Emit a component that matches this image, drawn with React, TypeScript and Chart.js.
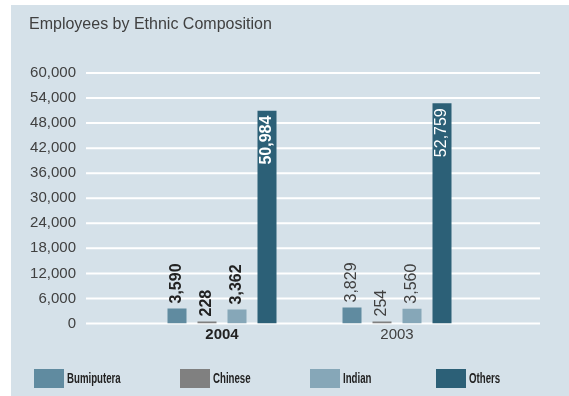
import React, { useEffect, useRef } from "react";
import { Chart, registerables } from "chart.js";

Chart.register(...registerables);

const TITLE = "Employees by Ethnic Composition";
const YEARS = ["2004", "2003"];
const SERIES_NAMES = ["Bumiputera", "Chinese", "Indian", "Others"];
const BUMIPUTERA = [3590, 3829];
const CHINESE = [228, 254];
const INDIAN = [3362, 3560];
const OTHERS = [50984, 52759];
const SERIES_COLORS = ["#608ba0", "#808080", "#86a7b8", "#2c6077"];
const Y_MIN = 0;
const Y_MAX = 60000;
const Y_STEP = 6000;

const FONT = '"Liberation Sans", Arial, Helvetica, sans-serif';
const BG = "#d5e1e9";
const TEXT = "#404040";

const fmt = (v: number) => v.toLocaleString("en-US");

const customPlugin = {
  id: "custom",
  beforeDraw(chart: any) {
    const ctx = chart.ctx;
    ctx.save();
    ctx.fillStyle = "#ffffff";
    ctx.fillRect(0, 0, chart.width, chart.height);
    ctx.fillStyle = BG;
    ctx.fillRect(11, 5, chart.width - 11, chart.height - 5);
    // title
    ctx.fillStyle = TEXT;
    ctx.font = `16px ${FONT}`;
    ctx.textAlign = "left";
    ctx.textBaseline = "alphabetic";
    ctx.fillText(TITLE, 29, 29);
    // legend
    const legendX = [34, 180, 310, 436];
    ctx.font = `bold 14px ${FONT}`;
    ctx.textBaseline = "middle";
    SERIES_NAMES.forEach((name, i) => {
      ctx.fillStyle = SERIES_COLORS[i];
      ctx.fillRect(legendX[i], 369, 30, 19);
      ctx.fillStyle = "#222";
      ctx.save();
      ctx.translate(legendX[i] + 33, 379);
      ctx.scale(0.69, 1);
      ctx.fillText(name, 0, 0);
      ctx.restore();
    });
    ctx.restore();
  },
  beforeDatasetsDraw(chart: any) {
    const ctx = chart.ctx;
    const y = chart.scales.y;
    ctx.save();
    ctx.strokeStyle = "#ffffff";
    ctx.lineWidth = 2;
    ctx.font = `15px ${FONT}`;
    ctx.fillStyle = TEXT;
    ctx.textAlign = "right";
    ctx.textBaseline = "middle";
    y.ticks.forEach((t: any) => {
      const py = y.getPixelForValue(t.value);
      ctx.beginPath();
      ctx.moveTo(86, py);
      ctx.lineTo(540, py);
      ctx.stroke();
      ctx.fillText(fmt(t.value), 76, py);
    });
    ctx.restore();
  },
  afterDatasetsDraw(chart: any) {
    const ctx = chart.ctx;
    ctx.save();
    chart.data.datasets.forEach((ds: any, di: number) => {
      const meta = chart.getDatasetMeta(di);
      meta.data.forEach((bar: any, i: number) => {
        const v = ds.data[i];
        const weight = i === 0 ? "bold " : "";
        ctx.font = `${weight}16px ${FONT}`;
        ctx.save();
        const inside = di === 3;
        if (inside) {
          ctx.translate(bar.x, bar.y + 5);
          ctx.rotate(-Math.PI / 2);
          ctx.textAlign = "right";
          ctx.fillStyle = "#ffffff";
        } else {
          ctx.translate(bar.x, bar.y - 5);
          ctx.rotate(-Math.PI / 2);
          ctx.textAlign = "left";
          ctx.fillStyle = i === 0 ? "#222" : TEXT;
        }
        ctx.textBaseline = "middle";
        ctx.fillText(fmt(v), 0, 0);
        ctx.restore();
      });
    });
    ctx.restore();
  },
};

export default function App() {
  const ref = useRef<HTMLCanvasElement>(null);
  useEffect(() => {
    document.body.style.margin = "0";
    const seriesData = [BUMIPUTERA, CHINESE, INDIAN, OTHERS];
    const chart = new Chart(ref.current!, {
      type: "bar",
      data: {
        labels: YEARS,
        datasets: SERIES_NAMES.map((name, i) => ({
          label: name,
          data: seriesData[i],
          backgroundColor: SERIES_COLORS[i],
          borderWidth: 0,
          minBarLength: 2,
          categoryPercentage: 120 / 175,
          barPercentage: 19 / 30,
        })),
      },
      options: {
        responsive: false,
        animation: false,
        devicePixelRatio: 1,
        layout: { padding: { left: 134.5, right: 84.5, top: 73, bottom: 50.5 } },
        plugins: {
          legend: { display: false },
          title: { display: false },
          tooltip: { enabled: false },
        },
        scales: {
          x: {
            grid: { display: false, drawTicks: false },
            border: { display: false },
            ticks: {
              padding: 2,
              color: (c: any) => (c.index === 0 ? "#222" : TEXT),
              font: (c: any) => ({
                family: FONT,
                size: 15,
                weight: c.index === 0 ? "bold" : "normal",
              }),
            },
          },
          y: {
            display: false,
            min: Y_MIN,
            max: Y_MAX,
            ticks: { stepSize: Y_STEP },
          },
        },
      },
      plugins: [customPlugin],
    } as any);
    return () => chart.destroy();
  }, []);
  return (
    <div style={{ width: 569, height: 396 }}>
      <canvas ref={ref} width={569} height={396} />
    </div>
  );
}
